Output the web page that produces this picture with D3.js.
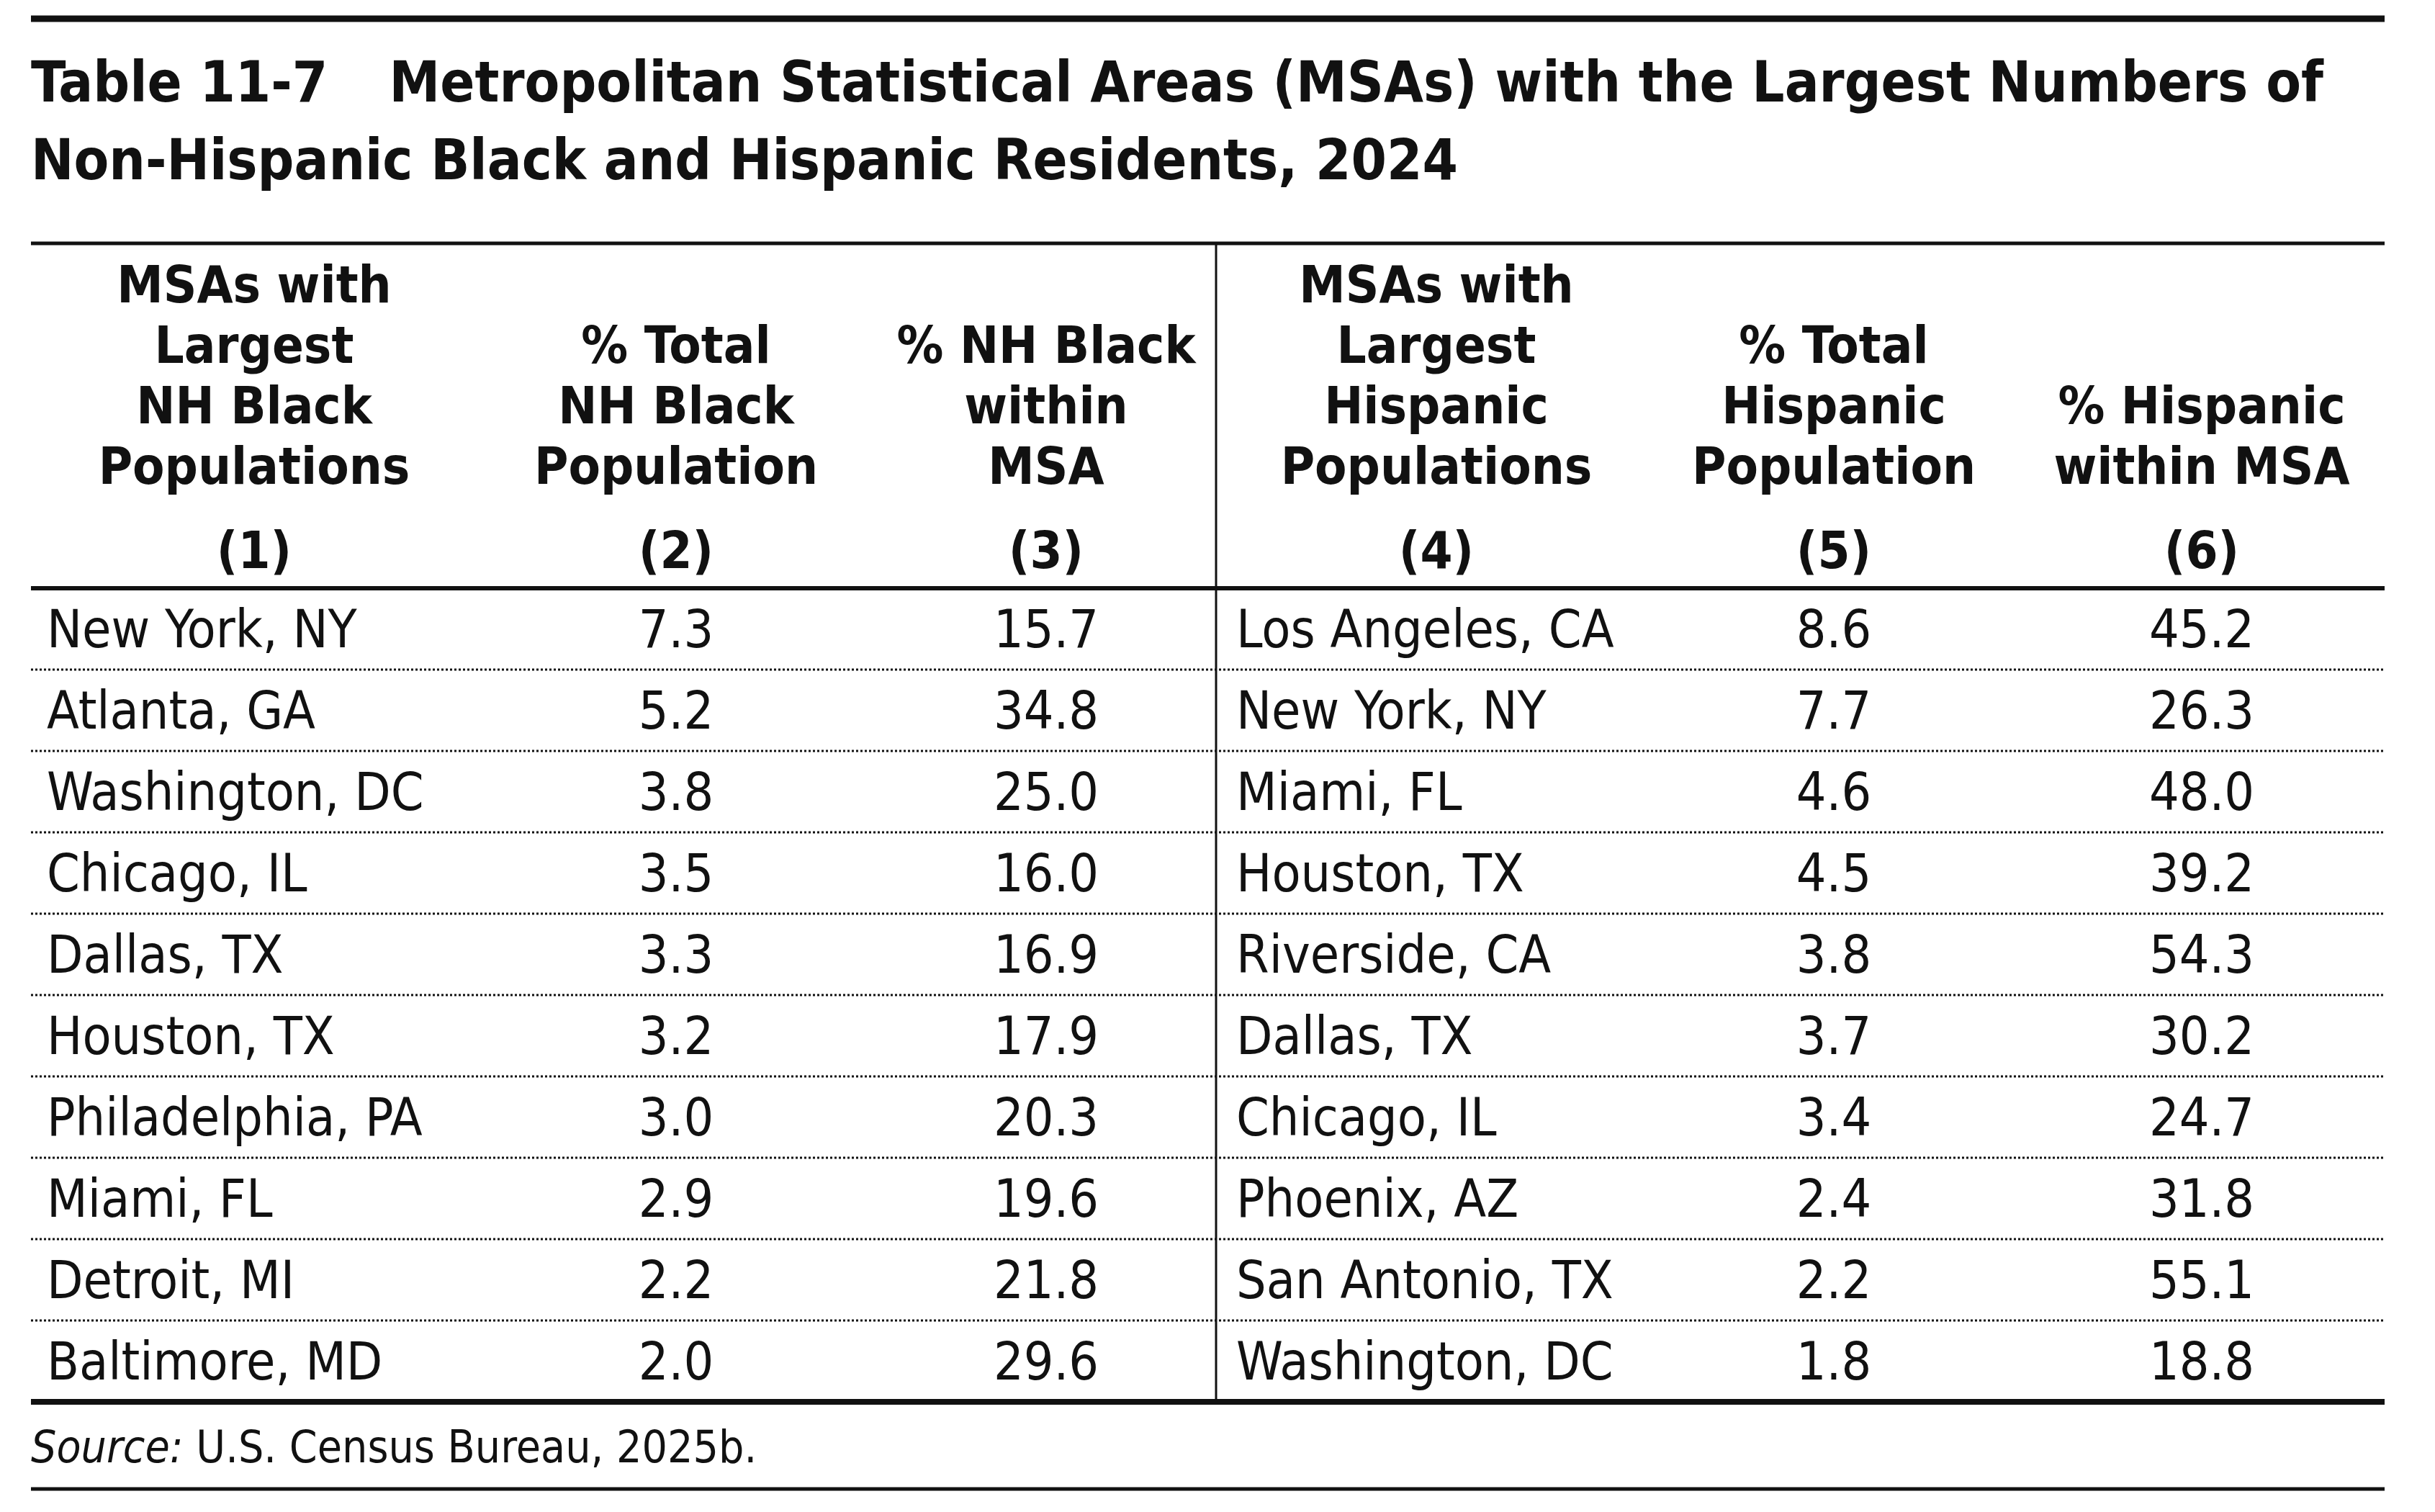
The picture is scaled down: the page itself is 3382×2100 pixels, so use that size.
<!DOCTYPE html>
<html>
<head>
<meta charset="utf-8">
<script src="https://cdnjs.cloudflare.com/ajax/libs/d3/7.8.5/d3.min.js"></script>
<style>
  body { margin: 0; background: #fff; }
  text { font-family: "Liberation Sans Narrow", "DejaVu Sans Condensed", "Open Sans", sans-serif; fill: #111; }
</style>
</head>
<body>
<div id="chart"></div>
<script>
  "use strict";
  // table contents
  var blackMSAs = ["New York, NY", "Atlanta, GA", "Washington, DC", "Chicago, IL", "Dallas, TX",
                   "Houston, TX", "Philadelphia, PA", "Miami, FL", "Detroit, MI", "Baltimore, MD"];
  var blackShare = ["7.3", "5.2", "3.8", "3.5", "3.3", "3.2", "3.0", "2.9", "2.2", "2.0"];
  var blackWithin = ["15.7", "34.8", "25.0", "16.0", "16.9", "17.9", "20.3", "19.6", "21.8", "29.6"];
  var hispMSAs = ["Los Angeles, CA", "New York, NY", "Miami, FL", "Houston, TX", "Riverside, CA",
                  "Dallas, TX", "Chicago, IL", "Phoenix, AZ", "San Antonio, TX", "Washington, DC"];
  var hispShare = ["8.6", "7.7", "4.6", "4.5", "3.8", "3.7", "3.4", "2.4", "2.2", "1.8"];
  var hispWithin = ["45.2", "26.3", "48.0", "39.2", "54.3", "30.2", "24.7", "31.8", "55.1", "18.8"];
  var headers = [
    ["MSAs with", "Largest", "NH Black", "Populations"],
    ["% Total", "NH Black", "Population"],
    ["% NH Black", "within", "MSA"],
    ["MSAs with", "Largest", "Hispanic", "Populations"],
    ["% Total", "Hispanic", "Population"],
    ["% Hispanic", "within MSA"]
  ];
  var colNumbers = ["(1)", "(2)", "(3)", "(4)", "(5)", "(6)"];
  var titleLines = ["Table 11-7\u2003\u2009Metropolitan Statistical Areas (MSAs) with the Largest Numbers of",
                    "Non-Hispanic Black and Hispanic Residents, 2024"];

  var W = 3382, H = 2100;
  var svg = d3.select("#chart").append("svg").attr("width", W).attr("height", H);
  var L = 43, R = 3312;

  // column centres (for headers / numbers) and left edges for names
  var colCenter = [353, 939, 1453, 1995, 2547, 3058];
  var nameLeft = [65, 1717];
  var divider = 1689;

  var rows = d3.range(10);
  var y = d3.scaleBand().domain(rows).range([817, 1947]);

  function rule(y0, w) {
    svg.append("line").attr("x1", L).attr("x2", R).attr("y1", y0).attr("y2", y0)
      .attr("stroke", "#111").attr("stroke-width", w);
  }
  rule(26, 9);
  rule(338, 5);
  rule(817, 6);
  rule(1947, 8);
  rule(2068, 5);

  // title
  svg.selectAll("text.title").data(titleLines).enter().append("text")
    .attr("x", L).attr("y", function (d, i) { return 141 + i * 108; })
    .style("font-size", "79px").style("font-weight", "bold")
    .text(function (d) { return d; });

  // headers, bottom aligned
  headers.forEach(function (lines, c) {
    lines.forEach(function (t, i) {
      svg.append("text").attr("x", colCenter[c])
        .attr("y", 672 - (lines.length - 1 - i) * 84)
        .attr("text-anchor", "middle").style("font-size", "72px").style("font-weight", "bold")
        .text(t);
    });
    svg.append("text").attr("x", colCenter[c]).attr("y", 789)
      .attr("text-anchor", "middle").style("font-size", "72px").style("font-weight", "bold")
      .text(colNumbers[c]);
  });

  // dotted separators
  rows.slice(1).forEach(function (r) {
    svg.append("line").attr("x1", L).attr("x2", R).attr("y1", y(r)).attr("y2", y(r))
      .attr("stroke", "#111").attr("stroke-width", 3).attr("stroke-dasharray", "3,3");
  });

  // vertical divider
  svg.append("line").attr("x1", divider).attr("x2", divider).attr("y1", 338).attr("y2", 1947)
    .attr("stroke", "#111").attr("stroke-width", 3);

  var cols = [
    { data: blackMSAs, x: nameLeft[0], anchor: "start" },
    { data: blackShare, x: colCenter[1], anchor: "middle" },
    { data: blackWithin, x: colCenter[2], anchor: "middle" },
    { data: hispMSAs, x: nameLeft[1], anchor: "start" },
    { data: hispShare, x: colCenter[4], anchor: "middle" },
    { data: hispWithin, x: colCenter[5], anchor: "middle" }
  ];
  cols.forEach(function (c) {
    svg.selectAll(null).data(c.data).enter().append("text")
      .attr("x", c.x).attr("y", function (d, i) { return y(i) + y.bandwidth() / 2 + 25; })
      .attr("text-anchor", c.anchor).style("font-size", "73px")
      .text(function (d) { return d; });
  });

  // source note
  var src = svg.append("text").attr("x", L).attr("y", 2031).style("font-size", "62px");
  src.append("tspan").style("font-style", "italic").text("Source:");
  src.append("tspan").text(" U.S. Census Bureau, 2025b.");
</script>
</body>
</html>
